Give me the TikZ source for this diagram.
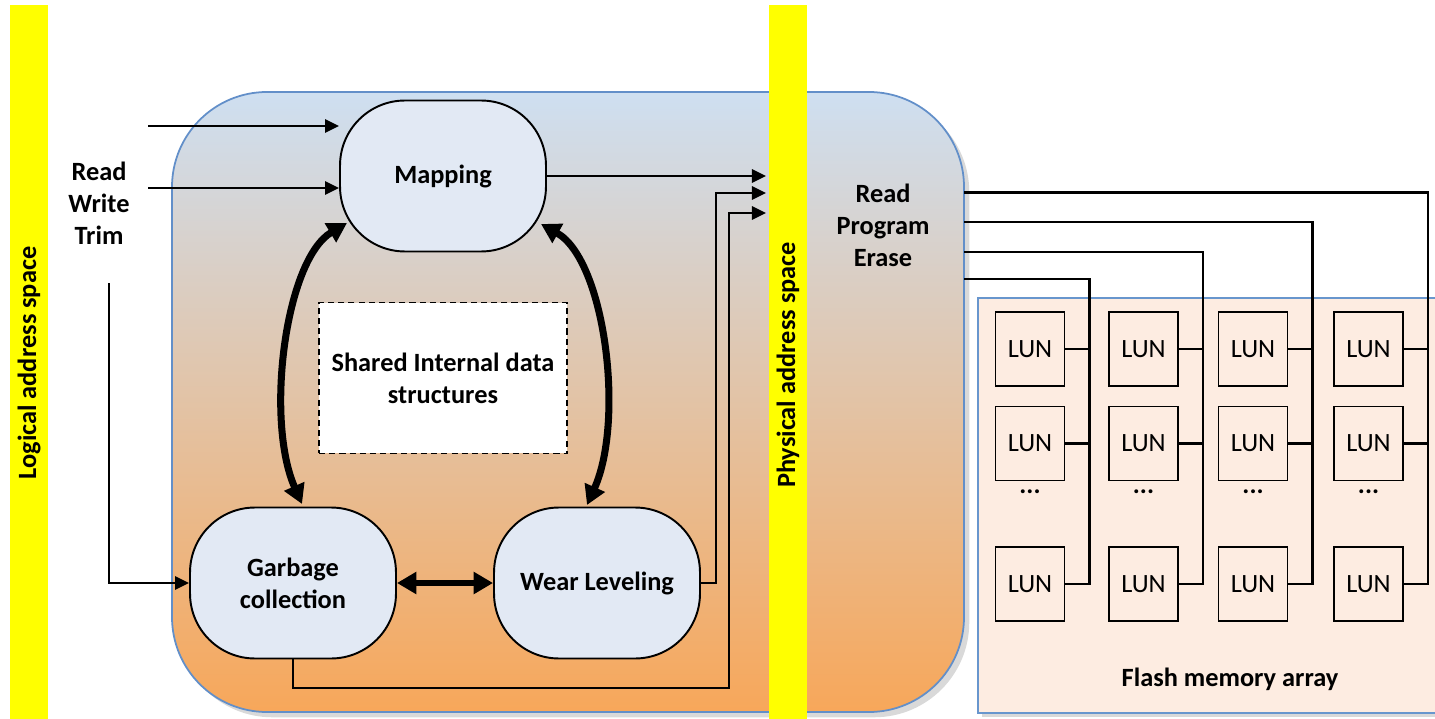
\documentclass[tikz,border=0pt]{standalone}
\usepackage{fontspec}
\setmainfont{Carlito}
\usepackage{xcolor}
\usepackage{tikz}
\usetikzlibrary{arrows.meta,positioning,calc,shadows}

\definecolor{barYellow}{RGB}{255,255,0}
\definecolor{ftlTop}{RGB}{206,223,241}
\definecolor{ftlBottom}{RGB}{247,167,90}
\definecolor{ftlBorder}{RGB}{98,143,201}
\definecolor{procFill}{RGB}{226,233,244}
\definecolor{flashFill}{RGB}{253,236,225}
\definecolor{flashBorder}{RGB}{104,150,205}

\newcommand{\ftlfont}{\fontsize{15}{18.2}\selectfont\bfseries}

\begin{document}
\begin{tikzpicture}[
    x=0.02cm, y=-0.02cm,
    bar/.style={fill=barYellow, draw=none},
    barlabel/.style={rotate=90, font=\ftlfont},
    lbl/.style={align=center, font=\ftlfont},
    procnode/.style={draw=black, line width=1.1pt, fill=procFill, rounded corners=1.3cm, minimum width=4.12cm, minimum height=3.02cm, align=center, font=\ftlfont},
    sharedbox/.style={draw=black, line width=1.1pt, dash pattern=on 3.5pt off 2.3pt, fill=white, minimum width=4.96cm, minimum height=3.02cm, align=center, font=\ftlfont},
    lunbox/.style={draw=black, line width=1.1pt, minimum width=1.38cm, minimum height=1.48cm, inner sep=0pt, font=\fontsize{15}{17}\selectfont},
    wire/.style={line width=1.4pt, draw=black},
    arrow/.style={-{Triangle[length=8pt,width=7.5pt]}, line width=1.3pt, draw=black},
    thickarrow/.style={{Triangle[length=11pt,width=12pt]}-{Triangle[length=11pt,width=12pt]}, line width=4pt, draw=black}
]
    \useasboundingbox (0,0) rectangle (1435,719);

    % Address space bars and FTL body
    \path[bar] (10,5) rectangle (48,719);
    \node[barlabel] (logical) at (29,363) {Logical address space};
    \path[draw=ftlBorder, line width=1pt, top color=ftlTop, bottom color=ftlBottom, rounded corners=1.9cm,
          drop shadow={shadow xshift=3pt, shadow yshift=-3pt, opacity=0.3}] (172,92) rectangle (964,712);
    \path[fill=flashFill, draw=flashBorder, line width=1pt,
          drop shadow={shadow xshift=2pt, shadow yshift=-2pt, opacity=0.3}] (978,298) rectangle (1450,713);
    \path[bar] (769,5) rectangle (807,719);
    \node[barlabel] (physical) at (788,365) {Physical address space};

    % FTL blocks
    \node[procnode] (mapping) at (443,176) {Mapping};
    \node[procnode] (garbage) at (293,583) {Garbage\\collection};
    \node[procnode] (wear) at (597,583) {Wear Leveling};
    \node[sharedbox] (shared) at (443,378) {Shared Internal data\\structures};

    % Labels
    \node[lbl] (hostops) at (99,203) {Read\\Write\\Trim};
    \node[lbl] (flashops) at (883,225) {Read\\Program\\Erase};
    \node[lbl] (flashlbl) at (1230,679) {Flash memory array};

    % Free ends
    \coordinate (host1) at (148,126);
    \coordinate (host2) at (148,188);
    \coordinate (trim) at (109,283);
    \coordinate (phys1) at (766,176);
    \coordinate (phys2) at (766,193);
    \coordinate (phys3) at (766,213);
    \coordinate (gcturn) at (729,688);
    \coordinate (feed1) at (964,279);
    \coordinate (feed2) at (964,252);
    \coordinate (feed3) at (964,222);
    \coordinate (feed4) at (964,192.5);

    % Host side
    \draw[arrow] (host1) -- (host1 -| mapping.west);
    \draw[arrow] (host2) -- (host2 -| mapping.west);
    \draw[arrow] (trim) |- (garbage.west);

    % Towards physical space
    \draw[arrow] (mapping.east) -- (phys1);
    \draw[arrow] (wear.east) -- ++(15,0) |- (phys2);
    \draw[arrow] (garbage.south) |- (gcturn) |- (phys3);

    % Shared state exchanges
    \draw[thickarrow] ($(mapping.center)+(-96,47)$) .. controls (285,260) and (265,420) .. ($(garbage.center)+(9,-79)$);
    \draw[thickarrow] ($(mapping.center)+(98,48)$) .. controls (605,260) and (625,420) .. ($(wear.center)+(-10,-78)$);
    \draw[thickarrow, line width=3.6pt] (garbage.east) -- (wear.west);

    % Flash memory array
    \foreach \c/\x in {1/1030,2/1143.5,3/1253,4/1368.5} {
        \foreach \r/\y in {1/349,2/443.5,3/584}
            \node[lunbox] (lun\c\r) at (\x,\y) {LUN};
        \node[lbl] (dots\c) at (\x,492) {...};
        \draw[wire] (feed\c) -| ($(lun\c3.east)+(24,0)$) -- (lun\c3.east);
        \draw[wire] (lun\c1.east) -- ++(24,0);
        \draw[wire] (lun\c2.east) -- ++(24,0);
    }

\end{tikzpicture}
\end{document}
